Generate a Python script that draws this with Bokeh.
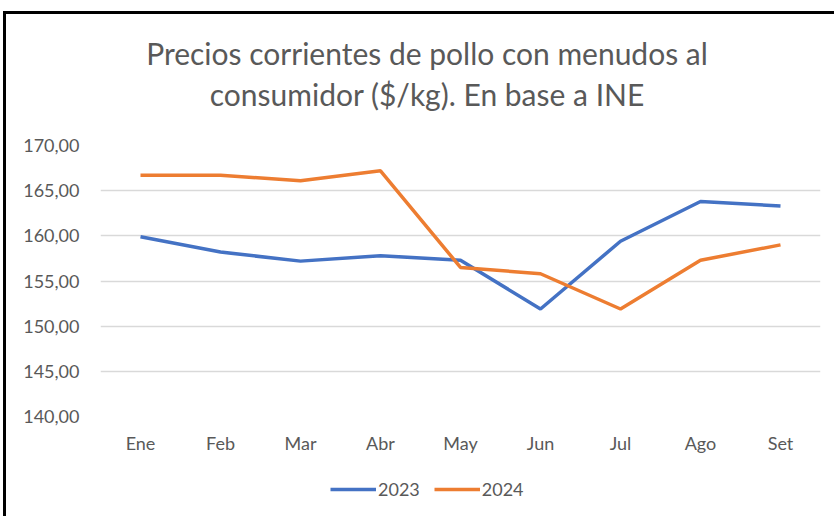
from bokeh.plotting import figure
from bokeh.models import (FactorRange, Range1d, FixedTicker, CustomJSTickFormatter,
                          Legend, LegendItem, Div)
from bokeh.layouts import column
from bokeh.embed import file_html
from bokeh.resources import INLINE

months = ["Ene", "Feb", "Mar", "Abr", "May", "Jun", "Jul", "Ago", "Set"]
v2023 = [159.9, 158.2, 157.2, 157.8, 157.3, 151.9, 159.4, 163.8, 163.3]
v2024 = [166.7, 166.7, 166.1, 167.2, 156.5, 155.8, 151.9, 157.3, 159.0]
series_names = ["2023", "2024"]
series_colors = ["#4472C4", "#ED7D31"]
yticks = [140, 145, 150, 155, 160, 165, 170]
title_lines = ["Precios corrientes de pollo con menudos al",
               "consumidor ($/kg). En base a INE"]

FONT = "Lato"
GREY = "#595959"

title = Div(text=('<div style="width:828px; box-sizing:border-box; text-align:center; '
                  'font-family:Lato; font-size:30px; line-height:41px; color:%s; '
                  'padding-top:19px; padding-left:14px; white-space:nowrap;">%s<br>%s</div>')
                 % (GREY, title_lines[0], title_lines[1]),
            width=828, height=111, margin=0)

p = figure(frame_width=720, frame_height=271,
           x_range=FactorRange(factors=months, range_padding=0),
           y_range=Range1d(140, 170), output_backend="svg", toolbar_location=None,
           min_border_left=94, min_border_right=14, min_border_top=20, min_border_bottom=45,
           margin=0)
p.outline_line_color = None

p.line(months, v2023, line_color=series_colors[0], line_width=3.5)
p.line(months, v2024, line_color=series_colors[1], line_width=3.5)

p.yaxis.ticker = FixedTicker(ticks=yticks)
p.yaxis.formatter = CustomJSTickFormatter(code="return tick.toFixed(2).replace('.', ',');")
for ax in (p.xaxis[0], p.yaxis[0]):
    ax.axis_line_color = None
    ax.major_tick_line_color = None
    ax.minor_tick_line_color = None
    ax.major_label_text_font = FONT
    ax.major_label_text_font_size = "18px"
    ax.major_label_text_color = GREY
p.yaxis.major_label_standoff = 15
p.xaxis.major_label_standoff = 9

p.xgrid.grid_line_color = None
p.ygrid.grid_line_color = "#D9D9D9"
p.ygrid.grid_line_width = 1.5

# legend strip below the chart (series lines fall outside its 0..1 range, only the legend shows)
lg = figure(width=828, height=55, x_range=Range1d(0, 1), y_range=Range1d(0, 1),
            output_backend="svg", toolbar_location=None, margin=0,
            min_border_left=0, min_border_right=0, min_border_top=0, min_border_bottom=0)
lg.axis.visible = False
lg.grid.visible = False
lg.outline_line_color = None
items = []
for name, col, vals in zip(series_names, series_colors, [v2023, v2024]):
    rr = lg.line(x=list(range(len(months))), y=vals, line_color=col, line_width=3.5)
    items.append(LegendItem(label=name, renderers=[rr]))
legend = Legend(items=items, orientation="horizontal", location=(230, 16),
                label_text_font=FONT, label_text_font_size="18px", label_text_color=GREY,
                glyph_width=46, glyph_height=20, label_standoff=2, spacing=14,
                border_line_color=None, background_fill_alpha=0, margin=0, padding=0)
lg.add_layout(legend, "center")

layout = column(title, p, lg, spacing=0,
                styles={"border-left": "3px solid black", "border-top": "3px solid black",
                        "margin-left": "3px", "margin-top": "11px"})
open("out.html", "w").write(file_html(layout, INLINE))
